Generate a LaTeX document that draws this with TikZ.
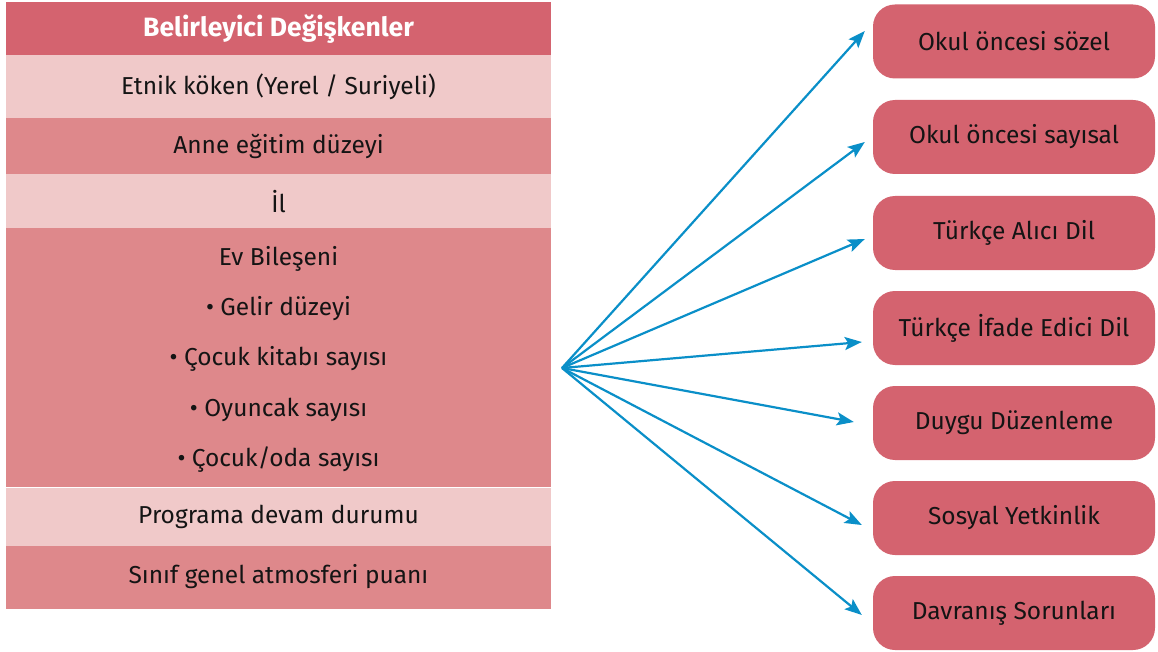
\documentclass[tikz,border=0pt]{standalone}
\usepackage{fontspec}
\setmainfont{Fira Sans}
\usetikzlibrary{arrows.meta}

\definecolor{rosedark}{HTML}{D4636F}
\definecolor{rosemid}{HTML}{DE888B}
\definecolor{roselight}{HTML}{F0C9C9}
\definecolor{arrowblue}{HTML}{0A8FC8}
\definecolor{inktext}{HTML}{141414}

\tikzset{
  row/.style={minimum width=545pt, minimum height=#1, inner sep=0pt,
    text=inktext, font=\fontsize{24.5}{28}\selectfont},
  rowtext/.style={inner sep=0pt, text=inktext, font=\fontsize{24.5}{28}\selectfont},
  outbox/.style={rounded corners=22pt, fill=rosedark, minimum width=282pt,
    minimum height=74pt, inner sep=0pt, text=inktext,
    font=\fontsize{24.5}{28}\selectfont},
  arr/.style={draw=arrowblue, line width=2.2pt,
    -{Stealth[length=17pt,width=13pt,inset=3.5pt]}},
}

\begin{document}
\begin{tikzpicture}[x=1pt,y=-1pt]
\useasboundingbox (0,0) rectangle (1158,652);

% left table
\node[row=53pt,fill=rosedark,text=white,font=\fontsize{26.5}{30}\selectfont\bfseries]
  (title) at (278.5,29) {Belirleyici Değişkenler};
\node[row=63pt,fill=roselight] (etnik) at (278.5,87) {Etnik köken (Yerel / Suriyeli)};
\node[row=56pt,fill=rosemid] (anne) at (278.5,146.5) {Anne eğitim düzeyi};
\node[row=54pt,fill=roselight] (il) at (278.5,201.5) {İl};
\node[row=259pt,fill=rosemid] (ev) at (278.5,357.5) {};
\node[row=58pt,fill=roselight] (program) at (278.5,516.5) {Programa devam durumu};
\node[row=63pt,fill=rosemid] (sinif) at (278.5,577) {Sınıf genel atmosferi puanı};

\node[rowtext] (evtitle) at (278.5,258.5) {Ev Bileşeni};
\node[rowtext] (gelir) at (278.5,308.5) {• Gelir düzeyi};
\node[rowtext] (kitap) at (278.5,358.5) {• Çocuk kitabı sayısı};
\node[rowtext] (oyuncak) at (278.5,409.5) {• Oyuncak sayısı};
\node[rowtext] (oda) at (278.5,459.5) {• Çocuk/oda sayısı};

% outcomes
\node[outbox] (sozel) at (1014,41.5) {Okul öncesi sözel};
\node[outbox] (sayisal) at (1014,137) {Okul öncesi sayısal};
\node[outbox] (alici) at (1014,233) {Türkçe Alıcı Dil};
\node[outbox] (ifade) at (1014,328) {Türkçe İfade Edici Dil};
\node[outbox] (duygu) at (1014,423) {Duygu Düzenleme};
\node[outbox] (sosyal) at (1014,518) {Sosyal Yetkinlik};
\node[outbox] (davranis) at (1014,613) {Davranış Sorunları};

\coordinate (hub) at (562,368);

\draw[arr] (hub) -- ([shift={(-8pt,10.5pt)}]sozel.west);
\draw[arr] (hub) -- ([shift={(-8pt,-5pt)}]sayisal.west);
\draw[arr] (hub) -- ([shift={(-8pt,-6pt)}]alici.west);
\draw[arr] (hub) -- ([shift={(-11pt,-14pt)}]ifade.west);
\draw[arr] (hub) -- ([shift={(-19pt,1pt)}]duygu.west);
\draw[arr] (hub) -- ([shift={(-11pt,-7pt)}]sosyal.west);
\draw[arr] (hub) -- ([shift={(-11pt,-2pt)}]davranis.west);

\end{tikzpicture}
\end{document}
